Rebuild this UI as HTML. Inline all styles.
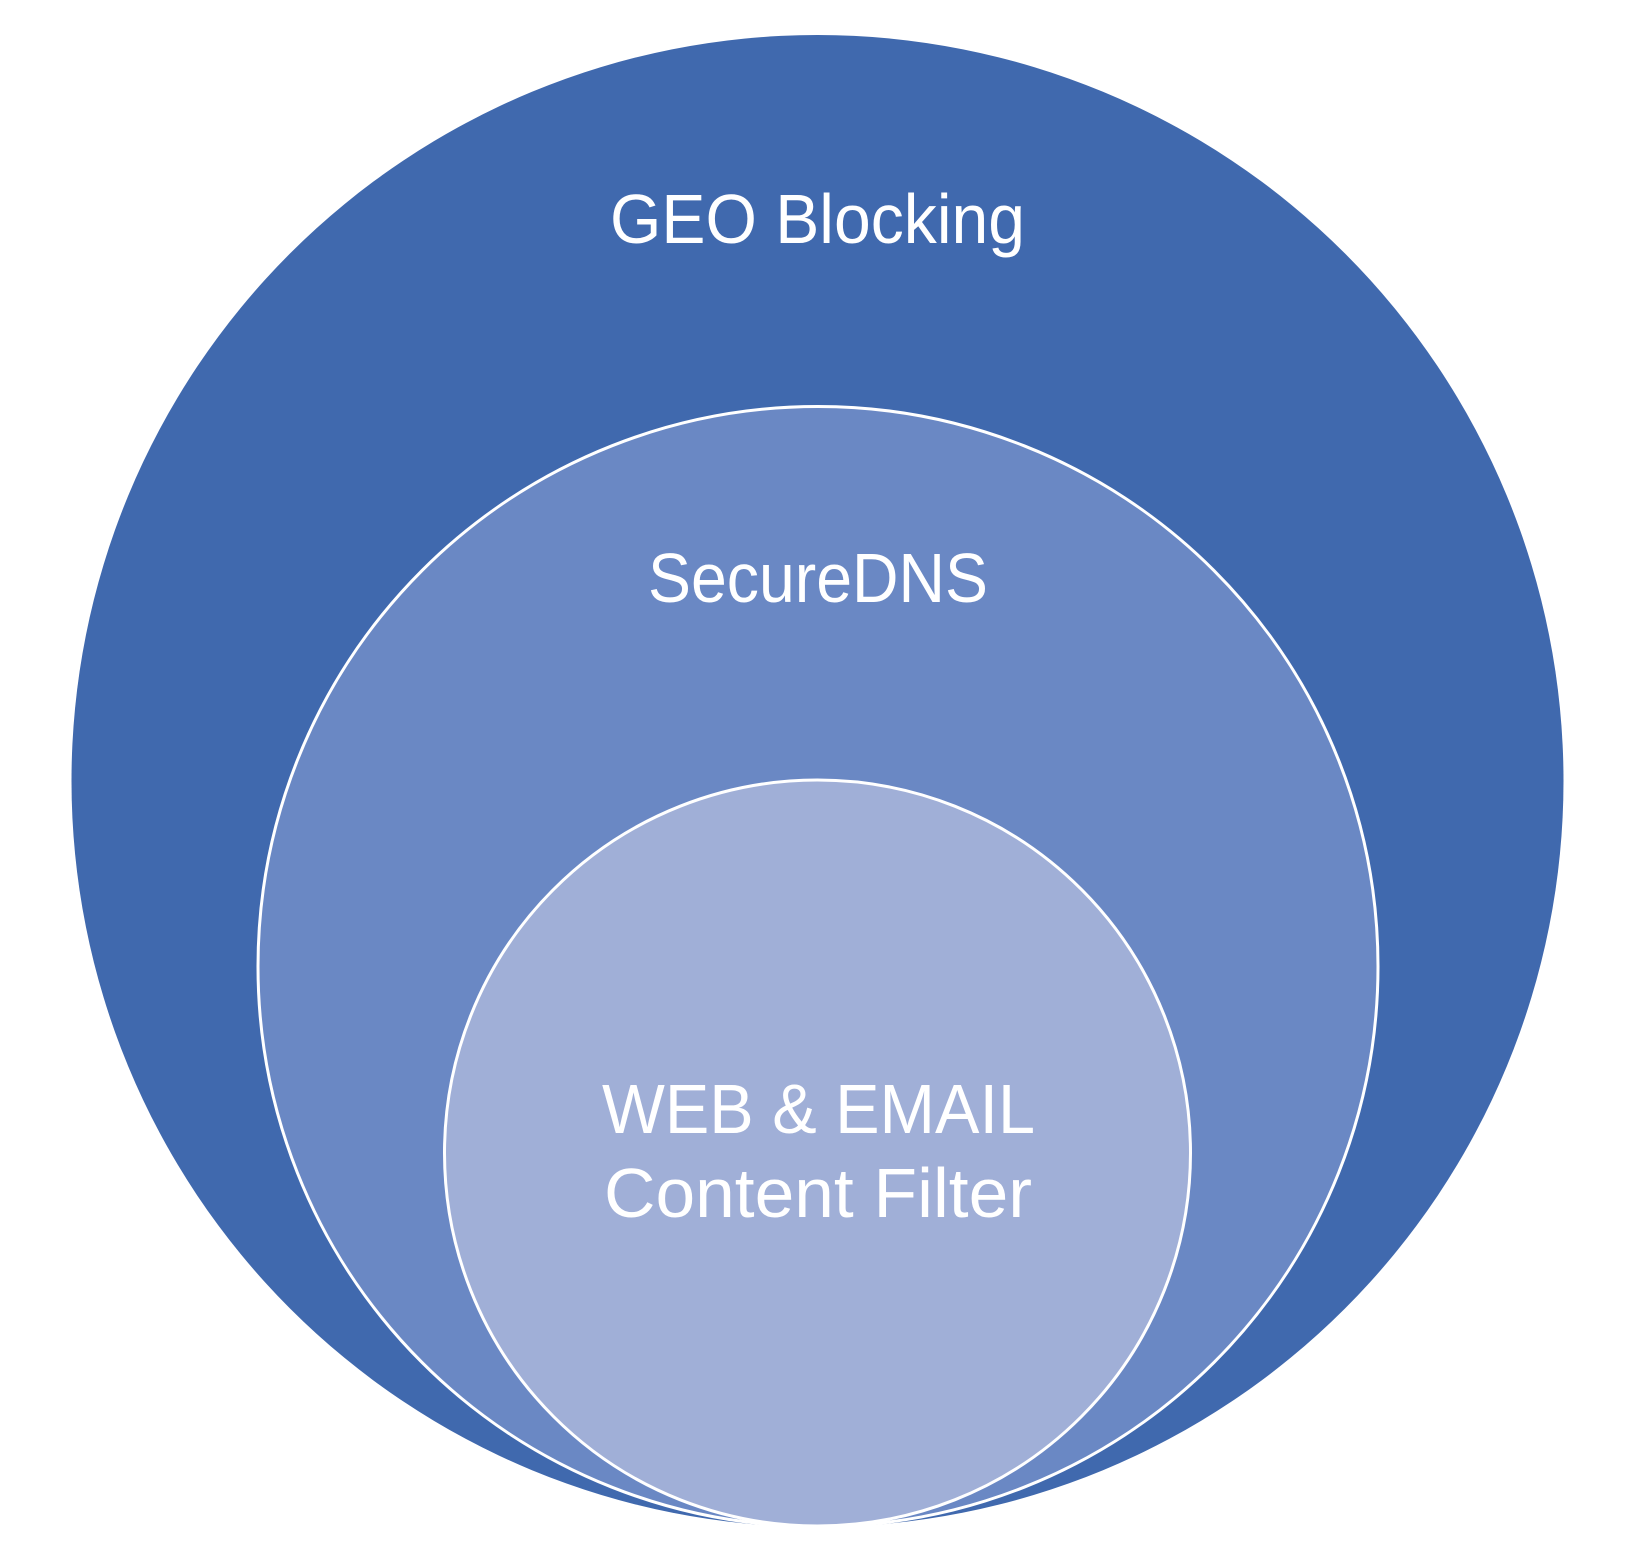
<!DOCTYPE html>
<html><head><meta charset="utf-8"><style>
html,body{margin:0;padding:0;background:#fff;width:1634px;height:1556px;overflow:hidden}
svg{display:block}
text{font-family:"Liberation Sans",sans-serif;fill:#fff}
</style></head><body>
<svg width="1634" height="1556" viewBox="0 0 1634 1556" xmlns="http://www.w3.org/2000/svg">
<circle cx="817.5" cy="781" r="746" fill="#4069ae"/>
<circle cx="818" cy="966.5" r="560" fill="#6a88c4" stroke="#fff" stroke-width="3"/>
<circle cx="817.5" cy="1153" r="373" fill="#a0afd7" stroke="#fff" stroke-width="3"/>
<text x="610" y="243" font-size="70" textLength="415" lengthAdjust="spacingAndGlyphs">GEO Blocking</text>
<text x="648" y="602" font-size="70" textLength="340" lengthAdjust="spacingAndGlyphs">SecureDNS</text>
<text x="602" y="1133" font-size="70" textLength="433" lengthAdjust="spacingAndGlyphs">WEB &amp; EMAIL</text>
<text x="604" y="1217" font-size="70" textLength="428" lengthAdjust="spacingAndGlyphs">Content Filter</text>
</svg>
</body></html>
